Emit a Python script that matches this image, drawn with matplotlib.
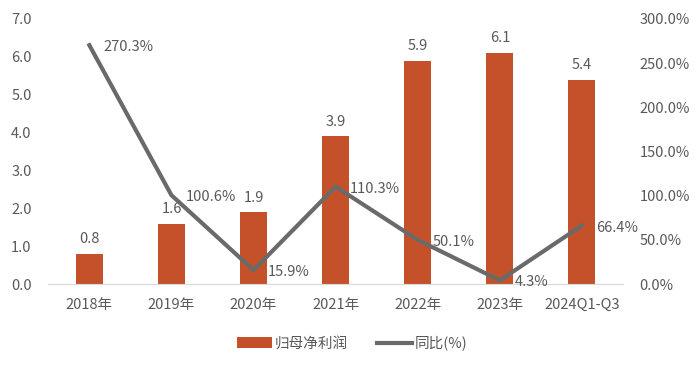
import matplotlib.pyplot as plt
import numpy as np

plt.rcParams["font.family"] = ["Noto Sans CJK SC", "DejaVu Sans"]

categories = ["2018年", "2019年", "2020年", "2021年", "2022年", "2023年", "2024Q1-Q3"]
profit = [0.8, 1.6, 1.9, 3.9, 5.9, 6.1, 5.4]
yoy = [270.3, 100.6, 15.9, 110.3, 50.1, 4.3, 66.4]

C_BAR = "#C5512B"
C_LINE = "#6A6A6A"
C_TEXT = "#595959"

fig = plt.figure(figsize=(7.0, 3.71), dpi=100)
ax = fig.add_axes([0.069, 0.234, 0.821, 0.715])
ax2 = ax.twinx()

x = np.arange(len(categories))
ax.bar(x, profit, width=0.33, color=C_BAR, label="归母净利润", zorder=2)
ax2.plot(x, yoy, color=C_LINE, linewidth=3.0, label="同比(%)", zorder=3)

ax.set_xlim(-0.5, len(categories) - 0.5)
ax.set_ylim(0, 7)
ax2.set_ylim(0, 300)
ax.set_yticks(np.arange(0, 7.5, 1.0))
ax.set_yticklabels([f"{v:.1f}" for v in np.arange(0, 7.5, 1.0)])
ax2.set_yticks(np.arange(0, 301, 50))
ax2.set_yticklabels([f"{v:.1f}%" for v in np.arange(0, 301, 50)])
ax.set_xticks(x)
ax.set_xticklabels(categories)

for a in (ax, ax2):
    for s in a.spines.values():
        s.set_visible(False)
    a.tick_params(length=0, labelsize=10.5, labelcolor=C_TEXT)
ax.spines["bottom"].set_visible(True)
ax.spines["bottom"].set_color("#D9D9D9")
ax.tick_params(axis="x", pad=10)
ax.tick_params(axis="y", pad=12)
ax2.tick_params(axis="y", pad=12)

for xi, v in zip(x, profit):
    ax.text(xi, v + 0.2, f"{v:.1f}", ha="center", va="bottom",
            fontsize=10.5, color=C_TEXT, zorder=4)

for xi, v in zip(x, yoy):
    ax2.annotate(f"{v:.1f}%", (xi, v), xytext=(10.5, -1.5),
                 textcoords="offset points", ha="left", va="center",
                 fontsize=10.5, color=C_TEXT, zorder=4)

h1, l1 = ax.get_legend_handles_labels()
h2, l2 = ax2.get_legend_handles_labels()
fig.legend(h1 + h2, l1 + l2, loc="center", bbox_to_anchor=(0.503, 0.075),
           ncol=2, frameon=False, fontsize=10.5, labelcolor=C_TEXT,
           handlelength=2.4, handletextpad=0.2, columnspacing=2.0)

fig.savefig("out.png", dpi=100)
